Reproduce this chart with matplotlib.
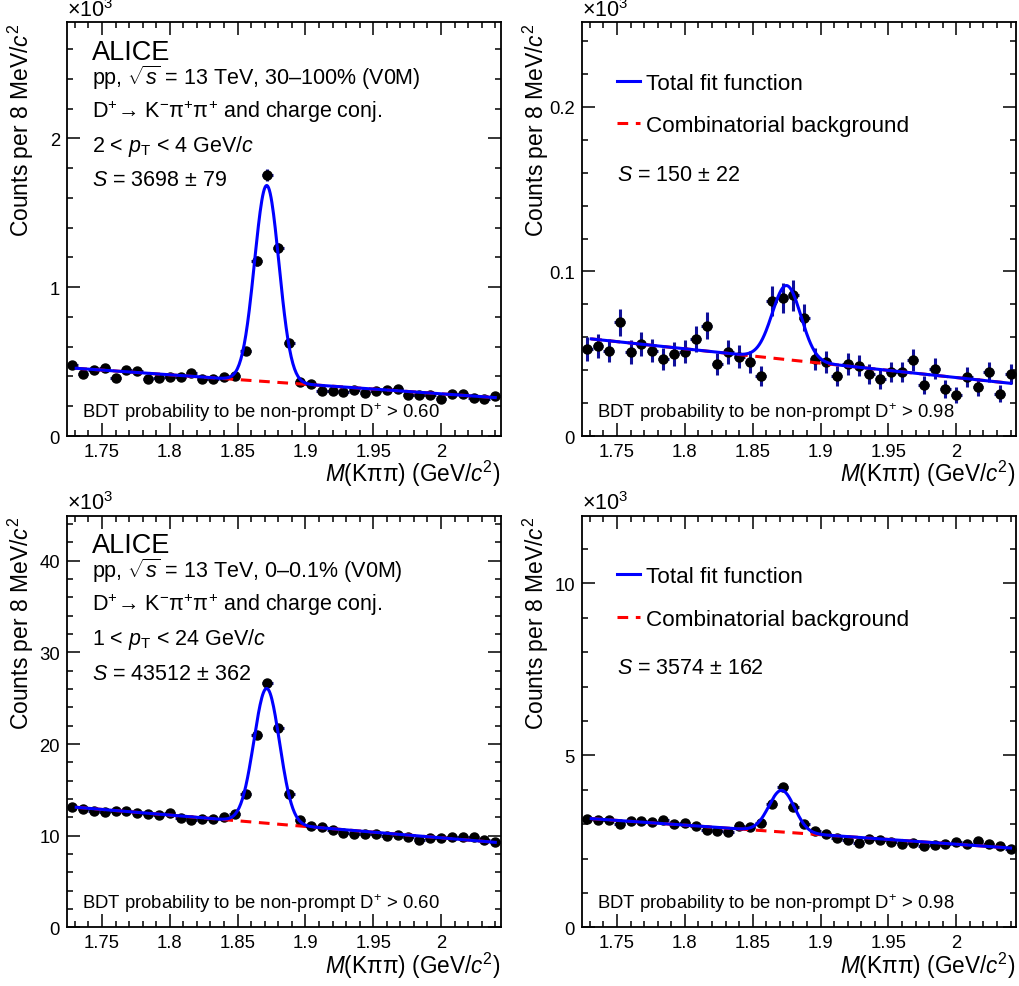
import numpy as np
import matplotlib
matplotlib.use('Agg')
import matplotlib.pyplot as plt
from matplotlib.ticker import MultipleLocator, FormatStrFormatter
from matplotlib.lines import Line2D

plt.rcParams['font.family'] = ['Liberation Sans', 'DejaVu Sans']
plt.rcParams['mathtext.fontset'] = 'custom'
plt.rcParams['mathtext.rm'] = 'Liberation Sans'
plt.rcParams['mathtext.it'] = 'Liberation Sans:italic'
plt.rcParams['mathtext.bf'] = 'Liberation Sans:bold'

# invariant-mass histogram: 40 bins of 8 MeV/c^2
bin_lo = 1.724
bin_width = 0.008
n_bins = 40
mass = bin_lo + bin_width * (np.arange(n_bins) + 0.5)

# counts per bin (x10^3)
counts_30_100_bdt060 = [0.475, 0.415, 0.446, 0.455, 0.393, 0.446, 0.440, 0.381, 0.390, 0.399,
                        0.395, 0.420, 0.383, 0.381, 0.399, 0.400, 0.570, 1.177, 1.753, 1.262,
                        0.623, 0.363, 0.350, 0.303, 0.303, 0.296, 0.310, 0.292, 0.305, 0.310,
                        0.319, 0.274, 0.276, 0.274, 0.249, 0.280, 0.285, 0.258, 0.247, 0.272]
counts_30_100_bdt098 = [0.0528, 0.0548, 0.0519, 0.0690, 0.0509, 0.0558, 0.0519, 0.0467, 0.0499, 0.0513,
                        0.0590, 0.0671, 0.0438, 0.0511, 0.0481, 0.0450, 0.0367, 0.0822, 0.0838, 0.0854,
                        0.0720, 0.0467, 0.0450, 0.0367, 0.0438, 0.0428, 0.0377, 0.0345, 0.0388, 0.0388,
                        0.0461, 0.0310, 0.0408, 0.0286, 0.0248, 0.0357, 0.0298, 0.0388, 0.0257, 0.0379]
counts_0_01_bdt060 = [13.16, 12.91, 12.73, 12.62, 12.73, 12.66, 12.51, 12.40, 12.29, 12.48,
                      11.90, 11.71, 11.79, 11.82, 12.00, 12.37, 14.58, 21.02, 26.69, 21.71,
                      14.51, 11.68, 11.09, 10.91, 10.58, 10.26, 10.22, 10.22, 10.19, 9.97,
                      10.04, 9.83, 9.56, 9.75, 9.78, 9.89, 9.86, 9.83, 9.53, 9.35]
counts_0_01_bdt098 = [3.163, 3.134, 3.124, 2.997, 3.085, 3.105, 3.056, 3.124, 3.008, 3.047,
                      2.959, 2.843, 2.813, 2.775, 2.950, 2.930, 3.038, 3.600, 4.076, 3.493,
                      3.017, 2.793, 2.726, 2.600, 2.551, 2.455, 2.560, 2.551, 2.484, 2.434,
                      2.464, 2.367, 2.405, 2.414, 2.472, 2.434, 2.502, 2.434, 2.367, 2.289]

# fit results (x10^3)
fit_lo, fit_hi = 1.731, 2.040
bkg_at_lo = [0.455, 0.059, 13.10, 3.163]
bkg_slope = [-0.637, -0.0873, -12.38, -2.767]
sig_amp = [1.318, 0.045, 14.70, 1.21]
sig_mean = [1.8715, 1.8750, 1.8715, 1.8714]
sig_sigma = [0.0090, 0.0106, 0.00945, 0.00943]

signal_text = [r'$S$ = 3698 ± 79', r'$S$ = 150 ± 22', r'$S$ = 43512 ± 362', r'$S$ = 3574 ± 162']
bdt_text = [r'BDT probability to be non-prompt D$^{+}$ > 0.60',
            r'BDT probability to be non-prompt D$^{+}$ > 0.98',
            r'BDT probability to be non-prompt D$^{+}$ > 0.60',
            r'BDT probability to be non-prompt D$^{+}$ > 0.98']
mult_text = [r'pp, $\sqrt{s}$ = 13 TeV, 30–100% (V0M)', None,
             r'pp, $\sqrt{s}$ = 13 TeV, 0–0.1% (V0M)', None]
pt_text = [r'2 < $p_{\mathrm{T}}$ < 4 GeV/$c$', None, r'1 < $p_{\mathrm{T}}$ < 24 GeV/$c$', None]
counts = [counts_30_100_bdt060, counts_30_100_bdt098, counts_0_01_bdt060, counts_0_01_bdt098]

y_max = [2.78, 0.2514, 44.9, 11.97]
y_major = [1, 0.1, 10, 5]
y_minor = [0.2, 0.02, 2, 1]

W, H = 1019, 987
fig = plt.figure(figsize=(W / 100, H / 100), dpi=100)
boxes = [(66.7, 23.3, 434, 413.7), (581.7, 23.3, 434.3, 413.7),
         (66.7, 516.7, 434, 411.7), (581.7, 516.7, 434.3, 411.7)]

blue = '#0000ff'
red = '#ff0000'
err_col = '#10109a'

for i, (x0, y0, w, h) in enumerate(boxes):
    ax = fig.add_axes([x0 / W, 1 - (y0 + h) / H, w / W, h / H])
    y = np.array(counts[i])
    yerr = np.sqrt(y * 1000) / 1000
    ax.errorbar(mass, y, xerr=bin_width / 2, yerr=yerr, fmt='o', color='black', ms=6.5,
                ecolor=err_col, elinewidth=2.2, capsize=0, zorder=2)

    xf = np.linspace(fit_lo, fit_hi, 500)
    bkg = bkg_at_lo[i] + bkg_slope[i] * (xf - fit_lo)
    tot = bkg + sig_amp[i] * np.exp(-0.5 * ((xf - sig_mean[i]) / sig_sigma[i]) ** 2)
    ax.plot(xf, bkg, color=red, lw=2.2, dashes=(3.5, 2.5), zorder=3)
    ax.plot(xf, tot, color=blue, lw=2.2, zorder=4)

    ax.set_xlim(bin_lo, bin_lo + n_bins * bin_width)
    ax.set_ylim(0, y_max[i])
    ax.xaxis.set_major_locator(MultipleLocator(0.05))
    ax.xaxis.set_minor_locator(MultipleLocator(0.01))
    ax.yaxis.set_major_locator(MultipleLocator(y_major[i]))
    ax.yaxis.set_minor_locator(MultipleLocator(y_minor[i]))
    ax.xaxis.set_major_formatter(FormatStrFormatter('%g'))
    ax.yaxis.set_major_formatter(FormatStrFormatter('%g'))
    ax.tick_params(which='both', direction='in', top=True, right=True, width=1.1, labelsize=13.3)
    ax.tick_params(which='major', length=9.5, pad=5)
    ax.tick_params(which='minor', length=4.5)
    for s in ax.spines.values():
        s.set_linewidth(1.3)

    ax.set_xlabel(r'$M$(Kππ) (GeV/$c^{2}$)', fontsize=16.3, loc='right')
    ax.xaxis.set_label_coords(1.0, -22 / h)
    ax.set_ylabel(r'Counts per 8 MeV/$c^{2}$', fontsize=16.5, loc='top')
    ax.yaxis.set_label_coords(-31 / w, 1.0)
    ax.text(0, 1.003, r'×10$^{3}$', transform=ax.transAxes, ha='left', va='bottom', fontsize=15.5)

    def put(txt, dx, dy, size=15.5):
        ax.annotate(txt, xy=(0, 1), xycoords='axes fraction', xytext=(dx, -dy),
                    textcoords='offset pixels', ha='left', va='baseline', fontsize=size)

    if mult_text[i] is not None:
        put('ALICE', 25, 36.5, 19.5)
        put(mult_text[i], 25, 61.5)
        put(r'D$^{+}$→ K$^{-}$π$^{+}$π$^{+}$ and charge conj.', 25, 94.5)
        put(pt_text[i], 25, 128.5)
        put(signal_text[i], 25, 163)
    else:
        handles = [Line2D([], [], color=blue, lw=2.2),
                   Line2D([], [], color=red, lw=2.2, dashes=(3.5, 2.5))]
        ax.legend(handles, ['Total fit function', 'Combinatorial background'],
                  loc='upper left', bbox_to_anchor=(35.3 / w, 1 - 50.5 / h), frameon=False,
                  fontsize=16.2, handlelength=1.0, handletextpad=0.3, borderpad=0,
                  borderaxespad=0, labelspacing=0.95)
        put(signal_text[i], 35, 157.5)

    ax.annotate(bdt_text[i], xy=(0, 0), xycoords='axes fraction', xytext=(15, 19.5),
                textcoords='offset pixels', ha='left', va='baseline', fontsize=13.3)

fig.savefig('out.png', dpi=100)
